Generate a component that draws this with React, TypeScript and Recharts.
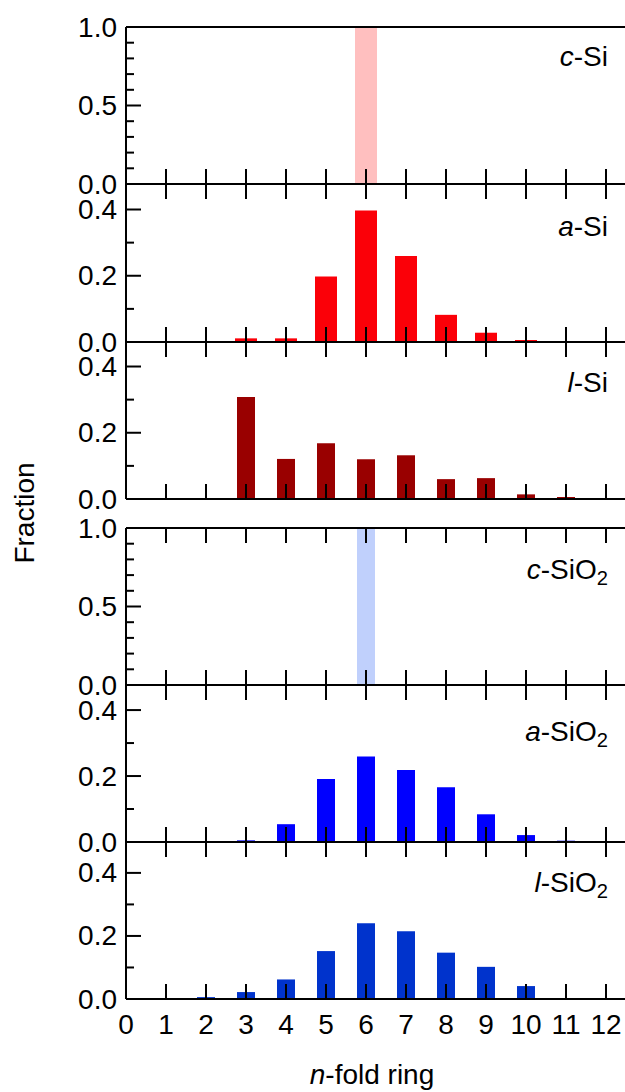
import React from 'react';
import { BarChart, Bar, XAxis, YAxis } from 'recharts';

// ring sizes on the shared x axis
const rings = [0, 1, 2, 3, 4, 5, 6, 7, 8, 9, 10, 11, 12];

// fraction of n-fold rings, one value per ring size
const cSi = [0, 0, 0, 0, 0, 0, 1.0, 0, 0, 0, 0, 0, 0];
const aSi = [0, 0, 0, 0.011, 0.011, 0.198, 0.397, 0.26, 0.082, 0.028, 0.006, 0, 0];
const lSi = [0, 0, 0, 0.308, 0.121, 0.168, 0.12, 0.132, 0.06, 0.063, 0.014, 0.006, 0.001];
const cSiO2 = [0, 0, 0, 0, 0, 0, 1.0, 0, 0, 0, 0, 0, 0];
const aSiO2 = [0, 0, 0, 0.005, 0.054, 0.191, 0.259, 0.218, 0.166, 0.084, 0.021, 0.004, 0.002];
const lSiO2 = [0, 0.001, 0.006, 0.022, 0.062, 0.152, 0.24, 0.215, 0.147, 0.102, 0.041, 0, 0];

// y ticks (minor + major) and the ones that carry a label
const unitTicks = [0, 0.1, 0.2, 0.3, 0.4, 0.5, 0.6, 0.7, 0.8, 0.9, 1.0];
const unitLabels = [0, 0.5, 1.0];
const smallTicks = [0, 0.1, 0.2, 0.3, 0.4];
const smallLabels = [0, 0.2, 0.4];

const FONT = '"Liberation Sans", Arial, Helvetica, sans-serif';
const FS = 28;

type Panel = {
    values: number[];
    prefix: string;
    name: string;
    sub?: string;
    color: string;
    barSize: number;
    top: number;
    bottom: number;
    yMax: number;
    yTicks: number[];
    yLabels: number[];
    topTicks: boolean;
    xLabels: boolean;
    labelY: number;
};

const panels: Panel[] = [
    { values: cSi, prefix: 'c', name: 'Si', color: '#ffbfbf', barSize: 22, top: 27, bottom: 184, yMax: 1, yTicks: unitTicks, yLabels: unitLabels, topTicks: false, xLabels: false, labelY: 57 },
    { values: aSi, prefix: 'a', name: 'Si', color: '#fb0008', barSize: 22, top: 184, bottom: 342, yMax: 0.477, yTicks: smallTicks, yLabels: smallLabels, topTicks: true, xLabels: false, labelY: 227 },
    { values: lSi, prefix: 'l', name: 'Si', color: '#990000', barSize: 18, top: 342, bottom: 499, yMax: 0.474, yTicks: smallTicks, yLabels: smallLabels, topTicks: true, xLabels: false, labelY: 383 },
    { values: cSiO2, prefix: 'c', name: 'SiO', sub: '2', color: '#c0d0fc', barSize: 18, top: 528, bottom: 685, yMax: 1, yTicks: unitTicks, yLabels: unitLabels, topTicks: true, xLabels: false, labelY: 570 },
    { values: aSiO2, prefix: 'a', name: 'SiO', sub: '2', color: '#0000ff', barSize: 18, top: 685, bottom: 842, yMax: 0.476, yTicks: smallTicks, yLabels: smallLabels, topTicks: true, xLabels: false, labelY: 732 },
    { values: lSiO2, prefix: 'l', name: 'SiO', sub: '2', color: '#0033cc', barSize: 18, top: 842, bottom: 999, yMax: 0.498, yTicks: smallTicks, yLabels: smallLabels, topTicks: true, xLabels: true, labelY: 883 },
];

const XBottomTick = ({ x, y, payload, showLabel }: any) => (
    <g>
        {payload.value > 0 && <line x1={x} x2={x} y1={y} y2={y - 15} stroke="#000" strokeWidth={2} />}
        {showLabel && (
            <text x={x} y={y + 25} textAnchor="middle" dominantBaseline="central" fontFamily={FONT} fontSize={FS} fill="#000">
                {payload.value}
            </text>
        )}
    </g>
);

const XTopTick = ({ x, y, payload }: any) =>
    payload.value > 0 ? <line x1={x} x2={x} y1={y} y2={y + 15} stroke="#000" strokeWidth={2} /> : <g />;

const YTick = ({ x, y, payload, labels }: any) => {
    const major = labels.some((l: number) => Math.abs(l - payload.value) < 1e-6);
    return (
        <g>
            <line x1={x} x2={x + (major ? 15 : 8)} y1={y} y2={y} stroke="#000" strokeWidth={2} />
            {major && (
                <text x={x - 9} y={y} textAnchor="end" dominantBaseline="central" fontFamily={FONT} fontSize={FS} fill="#000">
                    {payload.value.toFixed(1)}
                </text>
            )}
        </g>
    );
};

function PanelChart({ p }: { p: Panel }) {
    const data = rings.map((n, i) => ({ n, v: p.values[i] }));
    const mTop = 22;
    const mBottom = p.xLabels ? 60 : 22;
    const h = p.bottom - p.top + mTop + mBottom;
    return (
        <div style={{ position: 'absolute', left: 0, top: p.top - mTop }}>
            <BarChart width={627} height={h} data={data} margin={{ top: mTop - 1, bottom: mBottom - 1, left: 125, right: 1 }}>
                <XAxis
                    dataKey="n"
                    type="number"
                    domain={[0, 12.5]}
                    ticks={rings}
                    interval={0}
                    height={1}
                    tickSize={0}
                    tickMargin={0}
                    tickLine={false}
                    axisLine={{ stroke: '#000', strokeWidth: 2 }}
                    tick={(props: any) => <XBottomTick {...props} showLabel={p.xLabels} />}
                />
                <XAxis
                    xAxisId="top"
                    orientation="top"
                    dataKey="n"
                    type="number"
                    domain={[0, 12.5]}
                    ticks={rings}
                    interval={0}
                    height={1}
                    tickSize={0}
                    tickMargin={0}
                    tickLine={false}
                    axisLine={{ stroke: '#000', strokeWidth: 2 }}
                    tick={p.topTicks ? (props: any) => <XTopTick {...props} /> : false}
                />
                <YAxis
                    type="number"
                    domain={[0, p.yMax]}
                    ticks={p.yTicks}
                    interval={0}
                    width={1}
                    tickSize={0}
                    tickMargin={0}
                    tickLine={false}
                    allowDataOverflow
                    axisLine={{ stroke: '#000', strokeWidth: 2 }}
                    tick={(props: any) => <YTick {...props} labels={p.yLabels} />}
                />
                <Bar dataKey="v" fill={p.color} barSize={p.barSize} isAnimationActive={false} />
            </BarChart>
        </div>
    );
}

export default function App() {
    return (
        <div style={{ position: 'absolute', left: 0, top: 0, width: 625, height: 1092, overflow: 'hidden', background: '#fff', fontFamily: FONT }}>
            {panels.map((p, i) => (
                <PanelChart key={i} p={p} />
            ))}
            {panels.map((p, i) => (
                <div
                    key={'l' + i}
                    style={{ position: 'absolute', right: 17, top: p.labelY - 14, fontSize: FS, lineHeight: '28px', whiteSpace: 'nowrap', color: '#000' }}
                >
                    <i>{p.prefix}</i>-{p.name}
                    {p.sub && <span style={{ fontSize: '0.72em', position: 'relative', top: '0.3em' }}>{p.sub}</span>}
                </div>
            ))}
            <div style={{ position: 'absolute', left: 25, top: 513, transform: 'translate(-50%, -50%) rotate(-90deg)', fontSize: FS, whiteSpace: 'nowrap', color: '#000' }}>
                Fraction
            </div>
            <div style={{ position: 'absolute', left: 372, top: 1075, transform: 'translate(-50%, -50%)', fontSize: FS, whiteSpace: 'nowrap', color: '#000' }}>
                <i>n</i>-fold ring
            </div>
        </div>
    );
}
